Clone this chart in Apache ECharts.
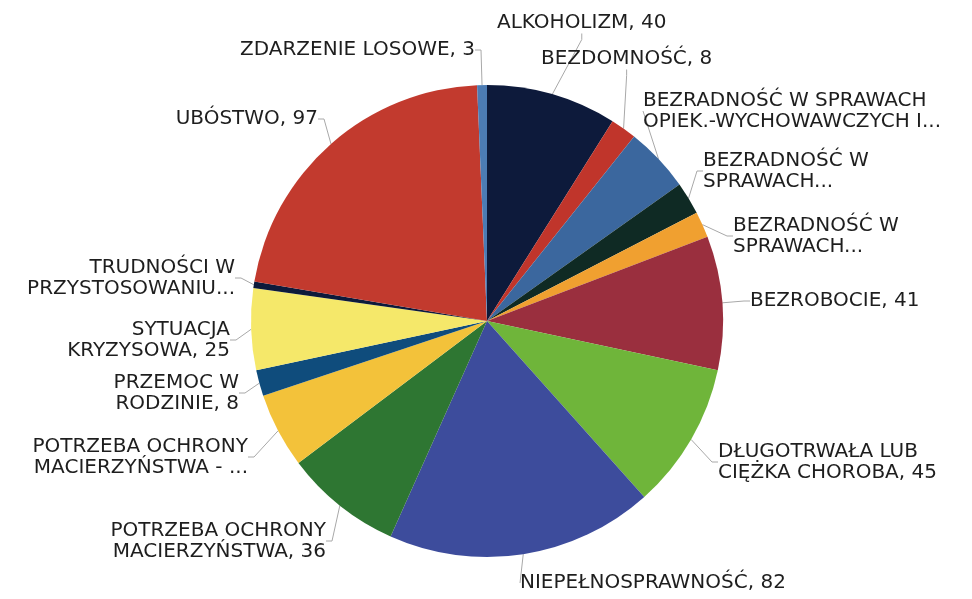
<!DOCTYPE html>
<html>
<head>
<meta charset="utf-8">
<script src="https://cdn.jsdelivr.net/npm/echarts@6/dist/echarts.min.js"></script>
<style>
html,body{margin:0;padding:0;background:#fff;}
#chart{width:972px;height:599px;}
</style>
</head>
<body>
<div id="chart"></div>
<script>
// kategorie i wartosci (kolejnosc zgodnie z ruchem wskazowek zegara od gory)
var categories = [
    'ALKOHOLIZM',
    'BEZDOMNOŚĆ',
    'BEZRADNOŚĆ W SPRAWACH\nOPIEK.-WYCHOWAWCZYCH I...',
    'BEZRADNOŚĆ W\nSPRAWACH...',
    'BEZRADNOŚĆ W\nSPRAWACH...',
    'BEZROBOCIE',
    'DŁUGOTRWAŁA LUB\nCIĘŻKA CHOROBA',
    'NIEPEŁNOSPRAWNOŚĆ',
    'POTRZEBA OCHRONY\nMACIERZYŃSTWA',
    'POTRZEBA OCHRONY\nMACIERZYŃSTWA - ...',
    'PRZEMOC W\nRODZINIE',
    'SYTUACJA\nKRYZYSOWA',
    'TRUDNOŚCI W\nPRZYSTOSOWANIU...',
    'UBÓSTWO',
    'ZDARZENIE LOSOWE'
];
var values = [40, 8, 20, 10, 8, 41, 45, 82, 36, 23, 8, 25, 2, 97, 3];
var colors = ['#0d1a3b', '#c0352b', '#3b679e', '#0f2a24', '#f0a030', '#9a2f3e', '#6fb53a',
    '#3d4c9c', '#2e7632', '#f3c23a', '#0f4c7c', '#f5e86a', '#0d1a3b', '#c23a2e', '#4c7cb4'];

// polozenie etykiet: [x, y, wyrownanie]
var labelPos = [
    [497, 23, 'left'], [541, 59, 'left'], [643, 111, 'left'], [703, 171, 'left'],
    [733, 236, 'left'], [750, 301, 'left'], [718, 462, 'left'], [520, 583, 'left'],
    [326, 541, 'right'], [248, 457, 'right'], [239, 393, 'right'], [230, 340, 'right'],
    [235, 278, 'right'], [318, 119, 'right'], [475, 50, 'right']
];

var data = [];
for (var i = 0; i < values.length; i++) {
    data.push({name: categories[i], value: values[i], itemStyle: {color: colors[i]}});   //kolor na element, bo nazwy sie powtarzaja
}

var option = {
    animation: false,
    series: [
        {
            type: 'pie',
            center: [487, 321],
            radius: 236,
            startAngle: 90,
            clockwise: true,
            avoidLabelOverlap: false,
            itemStyle: {
                borderWidth: 0
            },
            label: {
                show: true,
                color: '#1e1e1e',
                fontFamily: 'DejaVu Sans',
                fontSize: 20,
                lineHeight: 21,
                formatter: function (p) {
                    if (p.name.slice(-3) == '...') return p.name;
                    return p.name + ', ' + p.value;
                }
            },
            labelLine: {
                show: true,
                length: 8,
                length2: 6,
                lineStyle: {color: '#a8a8a8', width: 1}
            },
            labelLayout: function (params) {
                var pos = labelPos[params.dataIndex];
                return {
                    x: pos[0],
                    y: pos[1],
                    align: pos[2],
                    verticalAlign: 'middle'
                };
            },
            data: data
        }
    ]
};

var myChart = echarts.init(document.getElementById('chart'));
option && myChart.setOption(option);
</script>
</body>
</html>
